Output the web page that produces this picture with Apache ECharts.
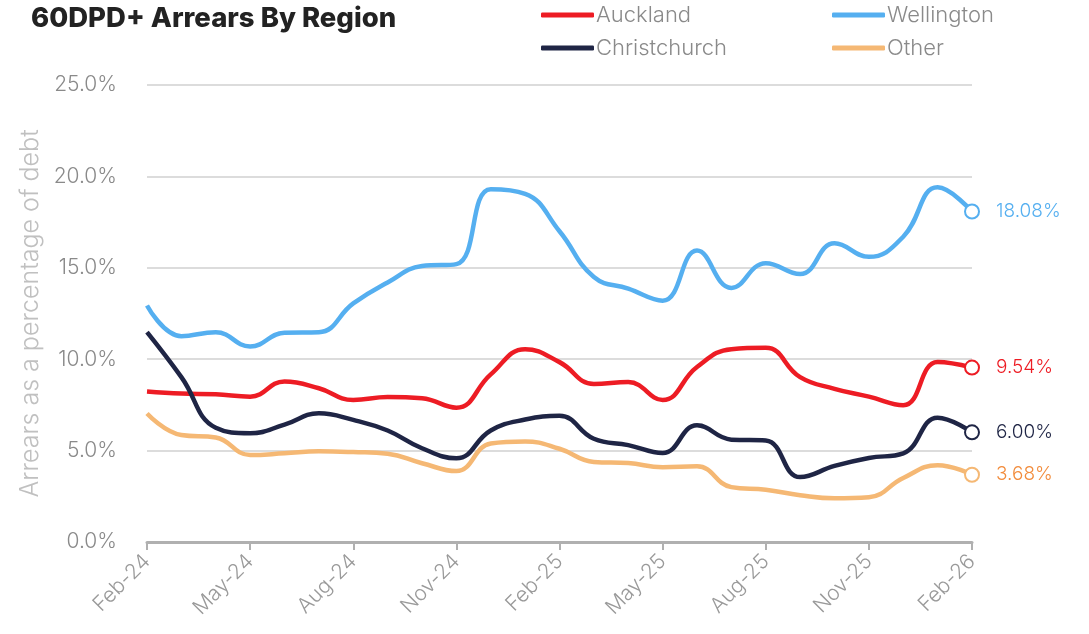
<!DOCTYPE html>
<html>
<head>
<meta charset="utf-8">
<script src="https://cdn.jsdelivr.net/npm/echarts@6/dist/echarts.min.js"></script>
<style>
  html, body { margin: 0; padding: 0; background: #fff; }
  #chart { width: 1089px; height: 634px; }
</style>
</head>
<body>
<div id="chart"></div>
<script>
// months Feb-24 .. Feb-26
var months = ['Feb-24', 'Mar-24', 'Apr-24', 'May-24', 'Jun-24', 'Jul-24', 'Aug-24', 'Sep-24', 'Oct-24', 'Nov-24', 'Dec-24',
    'Jan-25', 'Feb-25', 'Mar-25', 'Apr-25', 'May-25', 'Jun-25', 'Jul-25', 'Aug-25', 'Sep-25', 'Oct-25', 'Nov-25', 'Dec-25',
    'Jan-26', 'Feb-26'];
var regionNames = ['Auckland', 'Wellington', 'Christchurch', 'Other'];
var auckland = [8.23, 8.12, 8.08, 7.95, 8.78, 8.41, 7.77, 7.93, 7.86, 7.35, 9.17, 10.55, 9.84, 8.65, 8.75, 7.77, 9.57,
    10.55, 10.62, 9.02, 8.38, 7.95, 7.48, 9.84, 9.54];
var wellington = [12.94, 11.26, 11.48, 10.70, 11.45, 11.48, 13.05, 14.2, 15.1, 15.2, 19.3, 19.05, 17.0, 14.5, 13.86,
    13.2, 15.94, 13.9, 15.25, 14.66, 16.34, 15.6, 16.7, 19.4, 18.08];
var christchurch = [11.48, 9.02, 6.25, 5.95, 6.42, 7.04, 6.68, 6.1, 5.13, 4.58, 6.1, 6.7, 6.9, 5.65, 5.3, 4.87, 6.38,
    5.6, 5.55, 3.55, 4.16, 4.6, 4.85, 6.8, 6.00];
var other = [7.03, 5.85, 5.72, 4.76, 4.85, 4.96, 4.92, 4.83, 4.31, 3.88, 5.39, 5.5, 5.1, 4.38, 4.32, 4.09, 4.14,
    3.0, 2.86, 2.56, 2.39, 2.45, 3.5, 4.2, 3.68];
var lineColors = ['#ed1c24', '#55aff0', '#1f2545', '#f5b874'];
var endLabelColors = ['#ed1c24', '#55aff0', '#1f2545', '#f28c3c'];

var chart = echarts.init(document.getElementById('chart'));
var seriesData = [auckland, wellington, christchurch, other];
var font = 'Inter, "Noto Sans", sans-serif';

function makeSeries(name, color, labelColor, data) {
    var last = data.length - 1;
    return {
        name: name,
        type: 'line',
        smooth: 0.45,
        data: data,
        symbol: 'emptyCircle',
        showAllSymbol: true,
        symbolSize: function (v, p) { return p.dataIndex === last ? 14 : 0; },
        lineStyle: { color: color, width: 4.5 },
        itemStyle: { color: color, borderWidth: 3 },
        endLabel: {
            show: true,
            distance: 24,
            color: labelColor,
            fontFamily: font,
            fontWeight: 300,
            fontSize: 19,
            formatter: function (p) { return p.value.toFixed(2) + '%'; }
        },
        emphasis: { disabled: true },
        z: 3
    };
}

// one legend per slot: two rows of two
var legendPos = [[536, -1], [827, -1], [536, 32], [827, 32]];
var legends = [];
for (var i = 0; i < regionNames.length; i++) {
    legends.push({
        data: [regionNames[i]],
        left: legendPos[i][0],
        top: legendPos[i][1],
        icon: 'roundRect',
        itemWidth: 53,
        itemHeight: 5,
        itemGap: 5,
        selectedMode: false,
        textStyle: { color: '#8a8a8a', fontSize: 22, fontFamily: font, fontWeight: 300, padding: [0, 0, 0, -3] }
    });
}

var series = [];
for (var j = 0; j < regionNames.length; j++) {
    series.push(makeSeries(regionNames[j], lineColors[j], endLabelColors[j], seriesData[j]));
}

chart.setOption({
    animation: false,
    title: {
        text: '60DPD+ Arrears By Region',
        left: 26,
        top: 0,
        textStyle: { color: '#222', fontSize: 27.5, fontWeight: 800, fontFamily: font }
    },
    legend: legends,
    grid: { left: 147, right: 117, top: 85, bottom: 92 },
    xAxis: {
        type: 'category',
        data: months,
        boundaryGap: false,
        axisLine: { lineStyle: { color: '#b0b0b0', width: 3 } },
        axisTick: { interval: 2, length: 8, lineStyle: { color: '#b0b0b0', width: 2 } },
        axisLabel: {
            interval: 2,
            rotate: 45,
            margin: 16,
            color: '#9a9a9a',
            fontSize: 21,
            fontFamily: font,
            fontWeight: 300
        }
    },
    yAxis: {
        type: 'value',
        min: 0,
        max: 25,
        interval: 5,
        name: 'Arrears as a percentage of debt',
        nameLocation: 'middle',
        nameGap: 103,
        nameTextStyle: { color: '#c0c0c0', fontSize: 25, fontFamily: font, fontWeight: 300 },
        axisLine: { show: false },
        axisTick: { show: false },
        axisLabel: {
            margin: 30,
            color: '#8a8a8a',
            fontSize: 21,
            fontFamily: font,
            fontWeight: 300,
            formatter: function (v) { return v.toFixed(1) + '%'; }
        },
        splitLine: { lineStyle: { color: '#dcdcdc', width: 2 } }
    },
    series: series
});

window.addEventListener('resize', function () {
    chart.resize();
});
</script>
</body>
</html>
